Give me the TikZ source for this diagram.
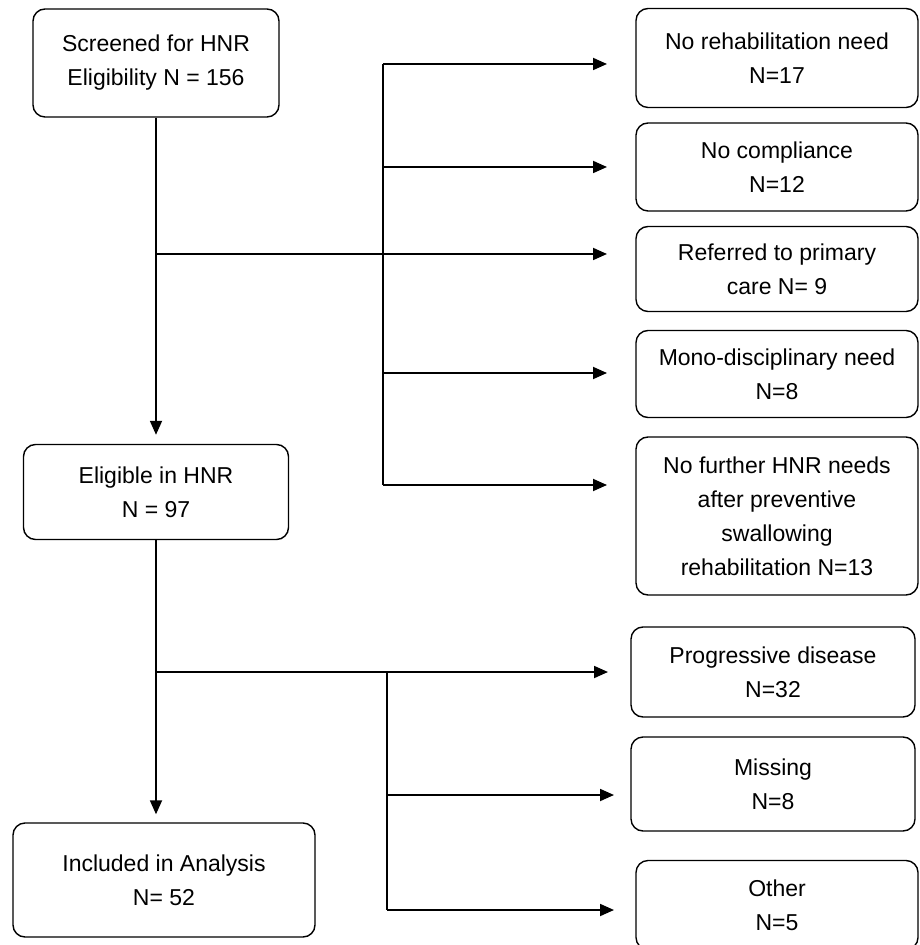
\documentclass[tikz,border=0pt]{standalone}
\usepackage{fontspec}
\setmainfont{Liberation Sans}
\usetikzlibrary{arrows.meta}
\begin{document}
\begin{tikzpicture}[x=0.5pt,y=-0.5pt,
    box/.style={draw,rounded corners=6pt,line width=0.7pt,align=center,inner sep=0pt,
      font=\fontsize{11.5}{17}\selectfont},
    line/.style={line width=0.9pt},
    arr/.style={line,-{Triangle[length=7pt,width=6pt]}}]
\useasboundingbox (0,0) rectangle (919,945);
% left column
\node[box,minimum width=123pt,minimum height=54pt] (scr) at (156,63) {Screened for HNR\\Eligibility N = 156};
\node[box,minimum width=132.5pt,minimum height=47.5pt] (elig) at (156,492) {Eligible in HNR\\N = 97};
\node[box,minimum width=151pt,minimum height=57pt] (incl) at (164,880) {Included in Analysis\\N= 52};
% excluded before eligibility
\node[box,minimum width=141pt,minimum height=49.5pt] (r1) at (777,58) {No rehabilitation need\\N=17};
\node[box,minimum width=141pt,minimum height=44pt] (r2) at (777,167) {No compliance\\N=12};
\node[box,minimum width=141pt,minimum height=42.5pt] (r3) at (777,269) {Referred to primary\\care N= 9};
\node[box,minimum width=141pt,minimum height=43.5pt] (r4) at (777,374) {Mono-disciplinary need\\N=8};
\node[box,minimum width=141pt,minimum height=79pt] (r5) at (777,516) {No further HNR needs\\after preventive\\swallowing\\rehabilitation N=13};
% excluded before analysis
\node[box,minimum width=142pt,minimum height=45pt] (p1) at (773,672) {Progressive disease\\N=32};
\node[box,minimum width=142pt,minimum height=47pt] (p2) at (773,784) {Missing\\N=8};
\node[box,minimum width=141pt,minimum height=44.5pt] (p3) at (777,905) {Other\\N=5};
% first split
\draw[arr,shorten >=4.5pt] (scr.south) -- (scr.south |- elig.north);
\coordinate (j1) at (156,254);
\coordinate (k0) at (383,64);
\coordinate (k5) at (383,485);
\draw[line] (j1) -- (383,254);
\draw[line] (k0) -- (k5);
\foreach \y [count=\i] in {64,167,254,373,485} {
  \coordinate (a\i) at (383,\y);
  \coordinate (t\i) at (607,\y);
  \draw[arr] (a\i) -- (t\i);
}
% second split
\draw[arr,shorten >=4pt] (elig.south) -- (elig.south |- incl.north);
\coordinate (j2) at (156,672);
\coordinate (k2) at (387,672);
\coordinate (b2) at (387,795);
\coordinate (b3) at (387,910);
\draw[line] (j2) -- (k2);
\draw[line] (k2) -- (b3);
\coordinate (s1) at (608,672);
\coordinate (s2) at (614,795);
\coordinate (s3) at (614,910);
\draw[arr] (k2) -- (s1);
\draw[arr] (b2) -- (s2);
\draw[arr] (b3) -- (s3);
\end{tikzpicture}
\end{document}
